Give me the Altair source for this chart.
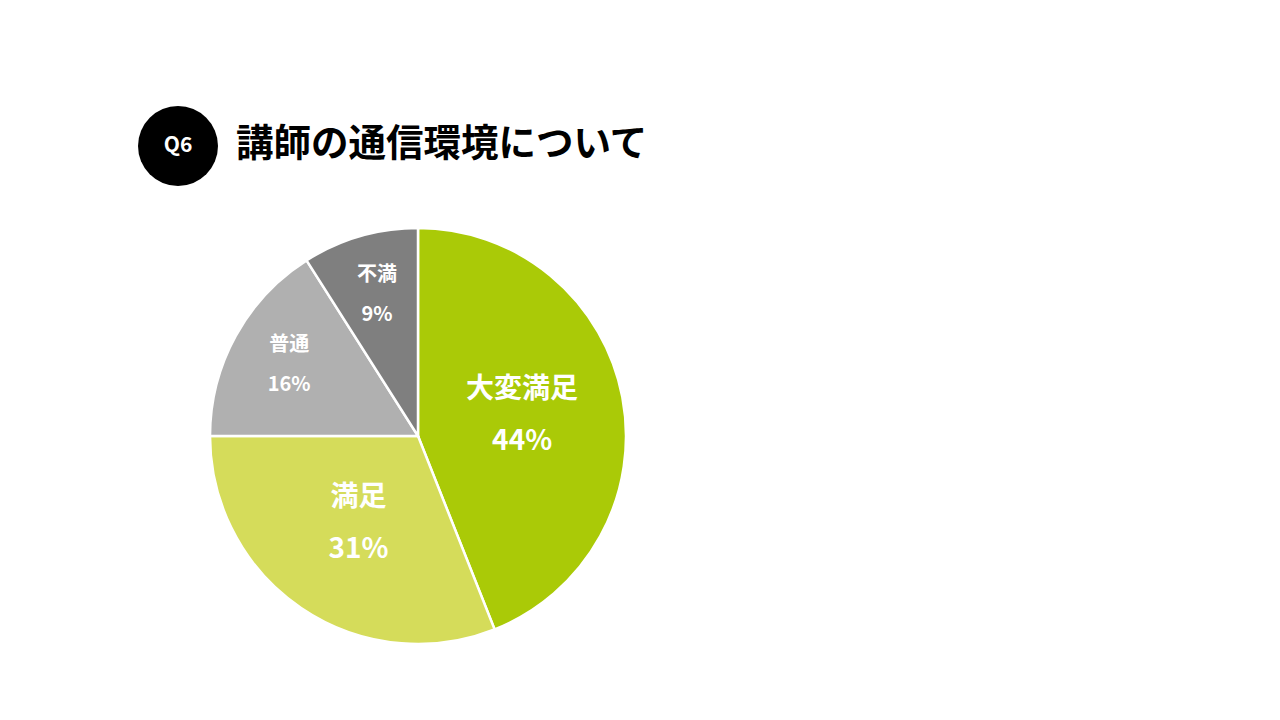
import pandas as pd
import altair as alt

categories = ["大変満足", "満足", "普通", "不満"]
percents = [44, 31, 16, 9]
palette = ["#AACA07", "#D5DC5A", "#B0B0B0", "#7F7F7F"]

title_text = "講師の通信環境について"
badge_text = "Q6"

FONT = "Noto Sans CJK JP"
CX, CY = 410, 428  # pie centre inside the 1264x704 canvas

df = pd.DataFrame({"category": categories, "value": percents, "idx": range(len(categories))})

base = alt.Chart(df)

pie = base.mark_arc(radius=208, stroke="white", strokeWidth=2.5).encode(
    theta=alt.Theta("value:Q", stack=True),
    order=alt.Order("idx:Q"),
    color=alt.Color(
        "category:N",
        scale=alt.Scale(domain=categories, range=palette),
        legend=None,
    ),
    x=alt.value(CX),
    y=alt.value(CY),
)


def labels(cond, r, size, line_height):
    # midpoint angle of every slice, then keep only the wanted ones
    return (
        base.transform_joinaggregate(total="sum(value)")
        .transform_window(cum="sum(value)", sort=[alt.SortField("idx")], frame=[None, 0])
        .transform_calculate(
            mid="2 * PI * (datum.cum - datum.value / 2) / datum.total",
            label="datum.category + '\\n' + datum.value + '%'",
        )
        .transform_filter(cond)
        .mark_text(
            font=FONT,
            fontWeight="bold",
            fontSize=size,
            color="white",
            align="center",
            baseline="middle",
            lineBreak="\n",
            lineHeight=line_height,
            dy=-line_height / 2,
        )
        .encode(
            theta=alt.Theta("mid:Q", scale=None),
            radius=alt.value(r),
            text="label:N",
            x=alt.value(CX),
            y=alt.value(CY),
        )
    )


big_labels = labels("datum.value >= 20", 106, 28, 52)
small_labels = labels("datum.value < 20", 147, 20, 40)

head = alt.Chart(pd.DataFrame({"q": [badge_text], "t": [title_text]}))

badge = head.mark_circle(size=6400, color="black", opacity=1).encode(
    x=alt.value(170), y=alt.value(138)
)
badge_label = head.mark_text(
    font=FONT, fontWeight="bold", fontSize=21, color="white", baseline="middle"
).encode(text="q:N", x=alt.value(170), y=alt.value(138))
title = head.mark_text(
    font=FONT, fontWeight="bold", fontSize=37.5, color="black", align="left", baseline="middle"
).encode(text="t:N", x=alt.value(228), y=alt.value(137))

chart = (
    alt.layer(pie, big_labels, small_labels, badge, badge_label, title)
    .resolve_scale(theta="independent")
    .properties(
        width=1264,
        height=704,
        autosize=alt.AutoSizeParams(type="none"),
        padding=0,
    )
    .configure_view(stroke=None)
)

chart.save("out.html", embed_options={"renderer": "svg", "actions": False})
